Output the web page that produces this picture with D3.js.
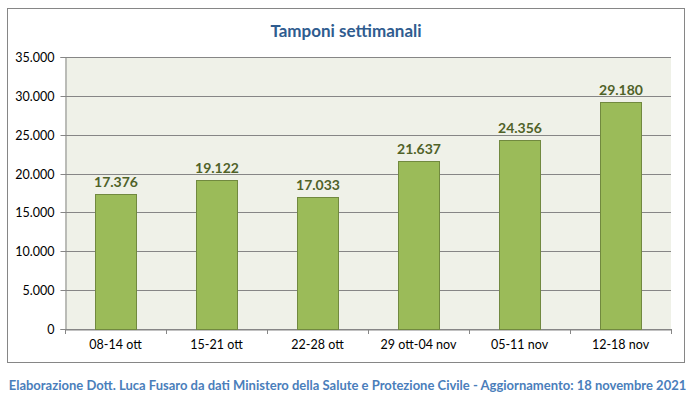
<!DOCTYPE html>
<html><head><meta charset="utf-8">
<script src="https://cdn.jsdelivr.net/npm/d3@7"></script>
<style>body{margin:0;background:#fff;} svg{display:block;}</style>
</head><body>
<script>
const categories = ["08-14 ott","15-21 ott","22-28 ott","29 ott-04 nov","05-11 nov","12-18 nov"];
const values = [17376, 19122, 17033, 21637, 24356, 29180];
const yTicks = [0,5000,10000,15000,20000,25000,30000,35000];
const title = "Tamponi settimanali";
const footer = "Elaborazione Dott. Luca Fusaro da dati Ministero della Salute e Protezione Civile - Aggiornamento: 18 novembre 2021";

const W = 695, H = 399;
const svg = d3.select("body").append("svg").attr("width", W).attr("height", H);
const font = "Lato, 'Open Sans', sans-serif";
const fmt = d => d === 0 ? "0" : d3.format(",")(d).replace(/,/g, ".");

svg.append("rect").attr("x",7.5).attr("y",8.5).attr("width",677).attr("height",354)
  .attr("fill","#fff").attr("stroke","#868686").attr("stroke-width",1);

const m = {l:65, r:671, t:57, b:329};
const x = d3.scaleBand().domain(categories).range([m.l, m.r]).paddingInner(0.59).paddingOuter(0.295);
const y = d3.scaleLinear().domain([0,35000]).range([m.b, m.t]);

svg.append("rect").attr("x",m.l).attr("y",m.t).attr("width",m.r-m.l).attr("height",m.b-m.t).attr("fill","#EFF1E8");

svg.append("g").selectAll("line").data(yTicks).join("line")
  .attr("x1",m.l).attr("x2",m.r).attr("y1",d=>Math.round(y(d))+0.5).attr("y2",d=>Math.round(y(d))+0.5)
  .attr("stroke","#868686").attr("stroke-width",1);

const yAxis = svg.append("g").attr("transform",`translate(${m.l+0.5},0)`)
  .call(d3.axisLeft(y).tickValues(yTicks).tickFormat(fmt).tickSize(5).tickPadding(6));
yAxis.select(".domain").attr("stroke","#868686");
yAxis.selectAll(".tick line").attr("stroke","#868686");
yAxis.selectAll(".tick text").attr("font-family",font).attr("font-size","12.5px").attr("fill","#000");
yAxis.selectAll(".tick").attr("transform", d=>`translate(0,${Math.round(y(d))+0.5})`);

const bx = d3.scaleBand().domain(categories).range([m.l, m.r]);
const xAxis = svg.append("g").attr("transform",`translate(0,${m.b+0.5})`)
  .call(d3.axisBottom(bx).tickSize(0).tickPadding(11));
xAxis.select(".domain").attr("stroke","#868686");
xAxis.selectAll(".tick text").attr("font-family",font).attr("font-size","12.5px").attr("fill","#000");
svg.append("g").selectAll("line").data(d3.range(categories.length+1)).join("line")
  .attr("x1",i=>Math.round(m.l + i*bx.step())+0.5).attr("x2",i=>Math.round(m.l + i*bx.step())+0.5)
  .attr("y1",m.b).attr("y2",m.b+5).attr("stroke","#868686");

svg.append("g").selectAll("rect").data(values).join("rect")
  .attr("x",(d,i)=>Math.round(x(categories[i]))+0.5).attr("width",Math.round(x.bandwidth()))
  .attr("y",d=>Math.round(y(d))+0.5).attr("height",d=>m.b-Math.round(y(d)))
  .attr("fill","#9BBB59").attr("stroke","#71893F").attr("stroke-width",1);

svg.append("g").selectAll("text").data(values).join("text")
  .attr("x",(d,i)=>x(categories[i])+x.bandwidth()/2+0.5).attr("y",d=>y(d)-7)
  .attr("text-anchor","middle").attr("font-family",font).attr("font-weight","bold")
  .attr("font-size","14px").attr("fill","#4F6228").text(fmt);

svg.append("text").attr("x",346).attr("y",37).attr("text-anchor","middle")
  .attr("font-family",font).attr("font-weight","bold").attr("font-size","17px").attr("fill","#2F5C8F").text(title);

svg.append("text").attr("x",347.5).attr("y",390).attr("text-anchor","middle")
  .attr("font-family",font).attr("font-weight","bold").attr("font-size","13px").attr("fill","#4A7EBB").text(footer);
</script>
</body></html>
